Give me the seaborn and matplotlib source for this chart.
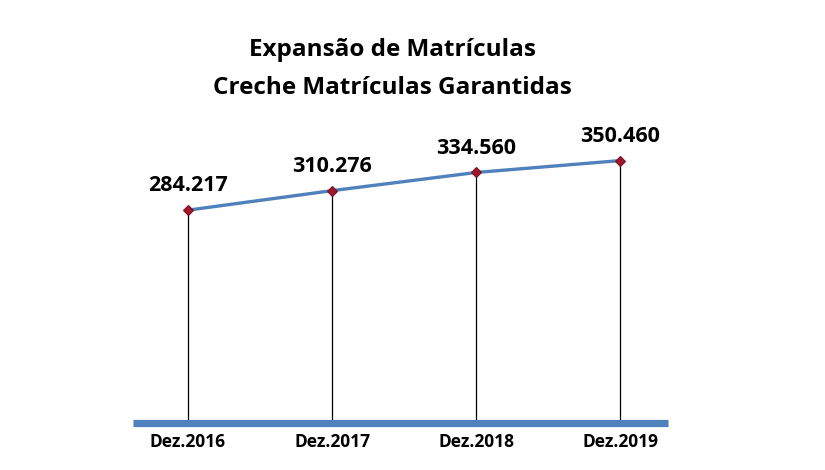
import numpy as np
import matplotlib
matplotlib.use("Agg")
import matplotlib.pyplot as plt
import seaborn as sns
import pandas as pd

categories = ["Dez.2016", "Dez.2017", "Dez.2018", "Dez.2019"]
values = [284217, 310276, 334560, 350460]
value_labels = ["284.217", "310.276", "334.560", "350.460"]
title_lines = ["Expansão de Matrículas", "Creche Matrículas Garantidas"]

sns.set_style("white")
plt.rcParams['font.family'] = ['Open Sans', 'DejaVu Sans']
plt.rcParams['text.color'] = 'black'
plt.rcParams['xtick.color'] = 'black'

df = pd.DataFrame({"pos": np.arange(len(categories)), "valor": values})

fig = plt.figure(figsize=(8.25, 4.7), dpi=100)
ax = fig.add_axes([133 / 825, 47 / 470, 535 / 825, 322 / 470])

# drop lines from each point down to the base
ax.vlines(df["pos"], 0, df["valor"], color="black", linewidth=0.9, zorder=1)

sns.lineplot(data=df, x="pos", y="valor", ax=ax, color="#4F81BD",
             linewidth=2.4, marker="D", markersize=5.5,
             markerfacecolor="#A0182E", markeredgecolor="#7A1020",
             markeredgewidth=0.8, zorder=3)

# thick base bar
ax.axhline(0, color="#4F81BD", linewidth=5.2, zorder=2, clip_on=False,
           solid_capstyle="butt")

for x, y, lab in zip(df["pos"], df["valor"], value_labels):
    ax.annotate(lab, (x, y), xytext=(0, 10), textcoords="offset points",
                ha="center", va="bottom", fontsize=15.5, fontweight="bold")

ax.set_xlim(-0.38, 3.33)
ax.set_ylim(0, 430000)
ax.set_xticks(df["pos"])
ax.set_xticklabels(categories, fontsize=12.5, fontweight="bold")
ax.tick_params(axis="x", length=0, pad=7)
ax.set_yticks([])
ax.set_xlabel("")
ax.set_ylabel("")
for s in ax.spines.values():
    s.set_visible(False)

for i, line in enumerate(title_lines):
    fig.text(392 / 825, 1 - (50 + 38 * i) / 470, line, ha="center", va="center",
             fontsize=17.5, fontweight="bold")

fig.savefig("out.png", dpi=100)
